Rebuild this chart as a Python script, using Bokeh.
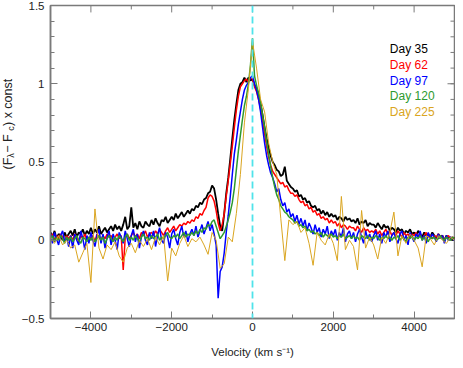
import numpy as np
from bokeh.plotting import figure
from bokeh.layouts import row
from bokeh.models import Range1d, FixedTicker, Span, Label
from bokeh.embed import file_html
from bokeh.resources import INLINE

# velocity grids (km/s)
vel_fine = list(range(-5000, 5001, 50))
vel_coarse = list(range(-5000, 5001, 100))

day35 = [
    0.05, 0.02, 0.06, 0.01, 0.04, 0.03, 0.00, 0.05, 0.02, 0.04,
    0.06, 0.03, 0.07, 0.02, 0.05, 0.04, 0.07, 0.03, 0.06, 0.04,
    0.08, 0.04, 0.07, 0.05, 0.09, 0.04, 0.06, 0.08, 0.05, 0.07,
    0.09, 0.06, 0.10, 0.07, 0.09, 0.06, 0.10, 0.15, 0.07, 0.09,
    0.21, 0.08, 0.11, 0.07, 0.12, 0.09, 0.08, 0.12, 0.10, 0.09,
    0.13, 0.10, 0.14, 0.11, 0.09, 0.13, 0.12, 0.15, 0.11, 0.13,
    0.15, 0.13, 0.17, 0.14, 0.16, 0.18, 0.15, 0.17, 0.19, 0.17,
    0.20, 0.19, 0.22, 0.21, 0.24, 0.23, 0.26, 0.27, 0.30, 0.31,
    0.35, 0.33, 0.26, 0.17, 0.09, 0.06, 0.17, 0.30, 0.40, 0.52,
    0.65, 0.77, 0.87, 0.96, 1.00, 1.01, 1.04, 1.01, 1.04, 1.02,
    1.03, 0.99, 0.97, 0.93, 0.87, 0.80, 0.72, 0.65, 0.59, 0.54,
    0.50, 0.48, 0.45, 0.44, 0.41, 0.42, 0.47, 0.38, 0.36, 0.34,
    0.33, 0.31, 0.32, 0.28, 0.29, 0.26, 0.27, 0.24, 0.25, 0.22,
    0.21, 0.22, 0.19, 0.20, 0.17, 0.19, 0.16, 0.18, 0.15, 0.17,
    0.15, 0.16, 0.13, 0.15, 0.14, 0.12, 0.15, 0.13, 0.14, 0.12,
    0.13, 0.11, 0.14, 0.10, 0.12, 0.11, 0.13, 0.09, 0.11, 0.10,
    0.10, 0.08, 0.11, 0.09, 0.07, 0.10, 0.08, 0.09, 0.06, 0.08,
    0.07, 0.05, 0.08, 0.06, 0.07, 0.04, 0.06, 0.05, 0.07, 0.04,
    0.05, 0.03, 0.06, 0.04, 0.02, 0.05, 0.03, 0.04, 0.02, 0.05,
    0.03, 0.01, 0.04, 0.02, 0.03, 0.00, 0.03, 0.01, 0.02, 0.00,
    0.02,
]

day62 = [
    0.02, 0.04, 0.00, 0.03, 0.01, 0.04, 0.02, -0.01, 0.03, 0.01,
    0.03, 0.00, 0.04, 0.02, -0.01, 0.03, 0.01, 0.04, 0.00, 0.02,
    0.01, 0.03, -0.01, 0.04, 0.02, 0.00, 0.03, 0.01, 0.04, 0.02,
    0.03, 0.00, 0.02, 0.04, 0.01, 0.03, -0.19, 0.02, 0.04, 0.01,
    0.03, 0.05, 0.02, 0.04, 0.01, 0.05, 0.03, 0.06, 0.02, 0.04,
    0.05, 0.03, 0.06, 0.04, 0.07, 0.05, 0.03, 0.06, 0.08, 0.05,
    0.07, 0.09, 0.06, 0.08, 0.10, 0.09, 0.11, 0.10, 0.12, 0.11,
    0.13, 0.12, 0.15, 0.14, 0.17, 0.16, 0.19, 0.21, 0.27, 0.29,
    0.28, 0.25, 0.19, 0.11, 0.06, 0.10, 0.17, 0.28, 0.38, 0.49,
    0.60, 0.72, 0.83, 0.92, 0.98, 1.00, 1.02, 1.03, 1.01, 1.04,
    1.03, 0.98, 0.95, 0.90, 0.84, 0.76, 0.68, 0.60, 0.53, 0.48,
    0.44, 0.42, 0.40, 0.38, 0.36, 0.37, 0.34, 0.35, 0.32, 0.30,
    0.30, 0.28, 0.29, 0.26, 0.24, 0.25, 0.22, 0.23, 0.20, 0.21,
    0.18, 0.19, 0.16, 0.17, 0.14, 0.15, 0.13, 0.14, 0.11, 0.13,
    0.11, 0.12, 0.09, 0.11, 0.08, 0.10, 0.09, 0.07, 0.09, 0.08,
    0.08, 0.06, 0.09, 0.07, 0.05, 0.08, 0.06, 0.07, 0.05, 0.06,
    0.05, 0.07, 0.04, 0.06, 0.03, 0.05, 0.07, 0.04, 0.06, 0.03,
    0.05, 0.03, 0.06, 0.04, 0.02, 0.05, 0.03, 0.04, 0.02, 0.04,
    0.03, 0.05, 0.02, 0.04, 0.01, 0.03, 0.05, 0.02, 0.03, 0.01,
    0.03, 0.02, 0.04, 0.01, 0.03, 0.00, 0.02, 0.03, 0.01, 0.02,
    0.01,
]

day97 = [
    0.04, -0.02, 0.05, 0.01, -0.03, 0.03, 0.06, -0.01, 0.02, -0.04,
    0.03, -0.05, 0.04, 0.00, -0.03, 0.06, 0.01, -0.06, 0.03, -0.02,
    0.05, 0.00, -0.04, 0.03, 0.07, -0.02, 0.04, -0.05, 0.02, 0.06,
    -0.03, 0.04, 0.00, -0.06, 0.05, 0.02, -0.02, 0.06, 0.01, -0.04,
    0.03, 0.07, -0.01, 0.04, -0.05, 0.02, 0.06, 0.00, -0.03, 0.05,
    0.01, 0.06, -0.04, 0.03, 0.08, 0.00, -0.02, 0.05, 0.02, -0.05,
    0.04, 0.07, 0.01, -0.03, 0.05, 0.09, 0.02, 0.06, -0.01, 0.04,
    0.07, 0.03, 0.09, 0.02, 0.06, 0.10, 0.04, 0.08, 0.12, 0.06,
    0.10, 0.04, -0.03, -0.37, -0.20, -0.17, -0.08, 0.05, 0.16, 0.28,
    0.42, 0.55, 0.64, 0.74, 0.82, 0.90, 0.96, 0.99, 1.01, 1.04,
    1.05, 1.00, 0.96, 0.90, 0.82, 0.72, 0.62, 0.54, 0.48, 0.43,
    0.40, 0.36, 0.31, 0.33, 0.26, 0.22, 0.24, 0.18, 0.20, 0.15,
    0.17, 0.12, 0.16, 0.10, 0.14, 0.09, 0.13, 0.06, 0.11, 0.08,
    0.04, 0.10, 0.05, 0.08, 0.02, 0.07, 0.04, 0.09, 0.01, 0.06,
    0.03, 0.07, 0.00, 0.05, 0.02, 0.08, -0.01, 0.04, 0.06, 0.01,
    0.05, -0.01, 0.04, 0.07, 0.02, -0.02, 0.06, 0.01, 0.04, -0.01,
    0.03, 0.06, 0.00, 0.04, -0.02, 0.05, 0.02, 0.06, -0.01, 0.03,
    0.05, 0.01, -0.02, 0.04, 0.06, 0.00, 0.03, -0.03, 0.05, 0.02,
    -0.01, 0.04, 0.02, 0.06, 0.00, 0.03, -0.02, 0.05, 0.01, 0.04,
    0.02, -0.01, 0.04, 0.01, 0.03, -0.02, 0.03, 0.00, 0.02, 0.01,
    0.00,
]

day120 = [
    0.01, 0.03, -0.01, 0.02, 0.00, 0.03, 0.01, -0.02, 0.02, 0.00,
    0.02, -0.01, 0.01, 0.03, 0.00, -0.02, 0.02, 0.01, -0.01, 0.02,
    0.00, 0.02, -0.01, 0.01, 0.03, 0.00, 0.02, -0.02, 0.01, 0.03,
    0.01, -0.01, 0.02, 0.00, 0.03, 0.01, -0.01, 0.02, 0.04, 0.00,
    0.02, 0.00, 0.03, 0.01, -0.01, 0.02, 0.04, 0.01, 0.02, 0.00,
    0.03, 0.01, 0.02, 0.04, 0.00, 0.02, 0.01, 0.03, 0.05, 0.02,
    0.01, 0.03, 0.02, 0.04, 0.01, 0.03, 0.05, 0.02, 0.04, 0.03,
    0.05, 0.03, 0.06, 0.04, 0.07, 0.05, 0.08, 0.07, 0.10, 0.09,
    0.12, 0.13, 0.09, 0.05, 0.01, 0.03, 0.05, 0.09, 0.13, 0.18,
    0.24, 0.33, 0.45, 0.57, 0.67, 0.77, 0.86, 0.92, 1.00, 1.12,
    1.29, 1.05, 0.99, 0.94, 0.88, 0.80, 0.72, 0.63, 0.55, 0.47,
    0.40, 0.34, 0.29, 0.26, 0.22, 0.20, 0.18, 0.17, 0.15, 0.14,
    0.13, 0.11, 0.12, 0.09, 0.10, 0.08, 0.09, 0.06, 0.07, 0.05,
    0.06, 0.04, 0.05, 0.03, 0.05, 0.02, 0.04, 0.03, 0.02, 0.04,
    0.02, 0.03, 0.01, 0.03, 0.02, 0.04, 0.01, 0.02, 0.03, 0.01,
    0.03, 0.01, 0.02, 0.00, 0.03, 0.02, 0.01, 0.03, 0.00, 0.02,
    0.01, 0.03, 0.02, 0.00, 0.02, 0.01, 0.03, 0.01, 0.02, 0.00,
    0.02, 0.01, 0.03, 0.00, 0.02, 0.01, -0.01, 0.02, 0.01, 0.03,
    0.00, 0.02, 0.01, 0.03, 0.00, 0.02, 0.01, -0.01, 0.02, 0.01,
    0.02, 0.00, 0.01, 0.03, 0.01, 0.00, 0.02, 0.01, 0.00, 0.02,
    0.01,
]

day225 = [
    0.02, -0.02, 0.03, -0.03, 0.00, -0.05, -0.03, -0.14, -0.08, -0.02,
    -0.27, 0.20, -0.05, -0.12, -0.03, -0.06, -0.01, -0.10, -0.14, -0.05,
    -0.02, -0.08, 0.00, -0.04, 0.01, -0.06, 0.02, -0.03, 0.03, -0.26,
    -0.05, -0.10, -0.02, 0.03, -0.04, 0.01, -0.01, 0.02, -0.03, -0.09,
    0.05, 0.00, -0.18, -0.15, 0.02, -0.01, 0.17, 0.42, 0.75, 0.97,
    1.27, 1.10, 0.90, 0.82, 0.62, 0.50, 0.42, 0.14, -0.13, 0.13,
    0.10, 0.12, 0.05, 0.08, -0.02, -0.16, 0.05, 0.00, -0.03, 0.04,
    -0.02, -0.13, 0.28, -0.06, 0.00, -0.04, -0.19, 0.19, -0.05, 0.02,
    -0.03, -0.12, 0.02, -0.02, 0.05, 0.18, -0.10, 0.03, -0.02, 0.04,
    0.00, -0.05, -0.17, 0.03, 0.01, -0.03, 0.03, 0.00, -0.02, 0.02,
    0.00,
]

series_names = ["Day 35", "Day 62", "Day 97", "Day 120", "Day 225"]
series_colors = ["black", "#ff0000", "#0000ff", "#2e9a2e", "#daa520"]

x_major = [-4000, -2000, 0, 2000, 4000]
x_minor = [-5000, -3000, -1000, 1000, 3000, 5000]
x_labels = {-4000: "\u22124000", -2000: "\u22122000", 0: "0", 2000: "2000", 4000: "4000"}
y_major = [-0.5, 0, 0.5, 1, 1.5]
y_minor = [round(-0.5 + 0.1 * i, 2) for i in range(21)]
y_labels = {-0.5: "\u22120.5", 0: "0", 0.5: "0.5", 1: "1", 1.5: "1.5"}

FONT = "Liberation Sans"
AX = "#7a7a7a"
TXT = "#222222"

SW = 16                      # strip holding the y title
W, H = 455 - SW, 360
BL, BR, BT, BB = 34, 1, 5, 39
x0, x1, y0, y1 = -5000, 5000, -0.5, 1.5

# ---- narrow strip for the y-axis title (with subscripts) ----
strip = figure(width=SW, height=H, output_backend="svg", toolbar_location=None,
               x_range=Range1d(0, 1), y_range=Range1d(0, 1),
               x_axis_location=None, y_axis_location=None, min_border=0)
strip.grid.visible = False
strip.outline_line_color = None
strip.background_fill_color = "white"
strip.border_fill_color = "white"

ylab_pieces = [("(F", 12.5, 0), ("\u03bb", 9, 3), (" \u2212 F", 12.5, 0),
               ("c", 9, 3), (")  x  const", 12.5, 0)]
piece_w = {"(F": 11.8, "\u03bb": 5.0, " \u2212 F": 21.9, "c": 4.8}
ypos = 149
for txt, size, sub in ylab_pieces:
    strip.add_layout(Label(x=7 + sub, y=ypos, x_units="screen", y_units="screen",
                           text=txt, angle=np.pi / 2, text_font=FONT,
                           text_font_size=f"{size}px", text_color=TXT,
                           text_align="left", text_baseline="middle"))
    ypos += piece_w.get(txt, 0)

# ---- main plot ----
p = figure(width=W, height=H, output_backend="svg", toolbar_location=None,
           x_range=Range1d(x0, x1), y_range=Range1d(y0, y1),
           min_border_left=BL, min_border_right=BR, min_border_top=BT,
           min_border_bottom=BB)
p.grid.visible = False
p.outline_line_color = AX
p.outline_line_width = 1.5
p.background_fill_color = "white"
p.border_fill_color = "white"


def style(ax):
    ax.axis_line_color = AX
    ax.axis_line_width = 1.5
    ax.major_tick_line_color = AX
    ax.minor_tick_line_color = AX
    ax.major_tick_in = 7
    ax.major_tick_out = 0
    ax.minor_tick_in = 4
    ax.minor_tick_out = 0
    ax.major_label_text_font = FONT
    ax.major_label_text_font_size = "11.5px"
    ax.major_label_text_color = TXT
    ax.axis_label_text_font = FONT
    ax.axis_label_text_font_style = "normal"
    ax.axis_label_text_font_size = "11.5px"
    ax.axis_label_text_color = TXT


xt = FixedTicker(ticks=x_major, minor_ticks=x_minor)
yt = FixedTicker(ticks=y_major, minor_ticks=y_minor)

xa = p.xaxis[0]
xa.ticker = xt
xa.major_label_overrides = x_labels
style(xa)
xa.major_label_standoff = 4
xa.axis_label = "Velocity (km s\u207b\u00b9)"
xa.axis_label_standoff = 12

ya = p.yaxis[0]
ya.ticker = yt
ya.major_label_overrides = y_labels
style(ya)
ya.major_label_standoff = 6

# ticks on the top and right edges of the frame (mirrors of the axes' ticks)
fw = W - BL - BR
fh = H - BT - BB
dy_major = 7 / fh * (y1 - y0)
dy_minor = 4 / fh * (y1 - y0)
dx_major = 7 / fw * (x1 - x0)
dx_minor = 4 / fw * (x1 - x0)
p.segment(x_major, [y1] * len(x_major), x_major, [y1 - dy_major] * len(x_major),
          line_color=AX, line_width=1)
p.segment(x_minor, [y1] * len(x_minor), x_minor, [y1 - dy_minor] * len(x_minor),
          line_color=AX, line_width=1)
p.segment([x1] * len(y_major), y_major, [x1 - dx_major] * len(y_major), y_major,
          line_color=AX, line_width=1)
p.segment([x1] * len(y_minor), y_minor, [x1 - dx_minor] * len(y_minor), y_minor,
          line_color=AX, line_width=1)

vline = Span(location=0, dimension="height", line_color="#4fe3ea",
             line_dash="7 4", line_width=1.8)
p.add_layout(vline)

p.line(vel_fine, day35, line_color=series_colors[0], line_width=1.8)
p.line(vel_fine, day62, line_color=series_colors[1], line_width=1.5)
p.line(vel_fine, day97, line_color=series_colors[2], line_width=1.5)
p.line(vel_fine, day120, line_color=series_colors[3], line_width=1.5)
p.line(vel_coarse, day225, line_color=series_colors[4], line_width=1.0)

legend_x = 3400
legend_y0 = 1.222
legend_dy = 0.101
for i, (name, col) in enumerate(zip(series_names, series_colors)):
    p.add_layout(Label(x=legend_x, y=legend_y0 - i * legend_dy, text=name,
                       text_color=col, text_font=FONT, text_font_size="12px",
                       text_baseline="middle", text_align="left"))

layout = row(strip, p, spacing=0)
open("out.html", "w").write(file_html(layout, INLINE))
